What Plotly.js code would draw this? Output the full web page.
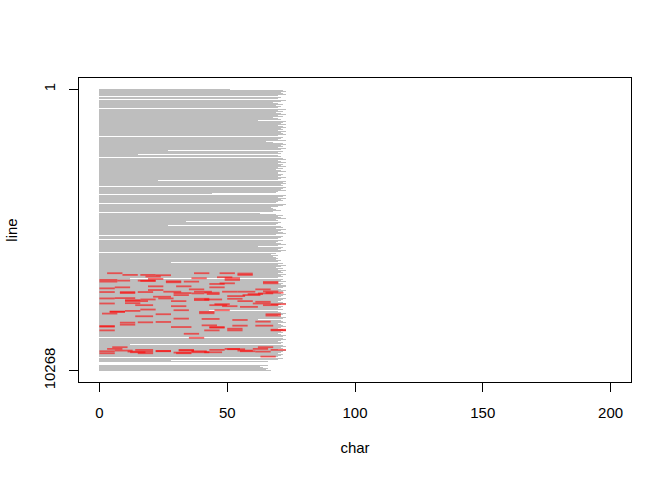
<!DOCTYPE html>
<html>
<head>
<meta charset="utf-8">
<script src="https://cdn.plot.ly/plotly-3.0.1.min.js"></script>
<style>html,body{margin:0;padding:0;background:#fff;}#chart{width:672px;height:480px;}</style>
</head>
<body>
<div id="chart"></div>
<script>
// Total number of text lines and axis ticks
const totalLines = 10268;
const charTicks = [0, 50, 100, 150, 200];
const lineTicks = [1, 10268];
const lineTickText = ['1', '10268'];

// Longest line length (chars) within each consecutive band of lines (≈36.8 lines per band, top to bottom)
const rowLen = [
  51,72,73,71,72,73,70,0,71,70,
  0,73,71,68,70,72,69,71,70,0,
  73,70,72,69,71,73,70,72,68,70,
  71,62,73,72,71,73,70,72,73,71,
  72,70,73,71,72,73,70,0,72,71,
  70,73,65,68,72,73,71,72,70,73,
  71,27,72,70,71,15,70,71,0,72,
  73,70,71,73,70,72,71,73,70,72,
  69,71,73,70,72,71,70,73,71,70,
  23,73,72,73,71,72,0,73,72,71,
  73,70,69,44,0,73,72,70,73,71,
  72,70,69,0,73,72,70,67,68,69,
  71,68,0,63,69,72,70,71,73,69,
  70,34,71,70,69,27,71,72,69,73,
  71,70,72,73,69,0,72,71,70,0,
  72,70,69,71,73,70,62,72,71,70,
  73,71,0,69,67,70,68,69,70,69,
  71,70,28,72,70,73,71,69,72,70,
  73,71,72,70,73,71,72,70,12,72,
  71,73,70,72,71,73,72,70,71,73,
  72,70,71,73,72,71,70,73,72,71,
  70,72,73,71,70,72,71,70,72,43,
  70,71,73,72,70,71,73,72,62,71,
  72,73,70,71,72,73,71,70,72,73,
  71,72,70,71,73,72,0,72,73,71,
  70,72,71,12,72,73,71,72,70,73,
  72,71,70,72,71,70,0,72,70,28,
  66,0,0,0,66,63,64,66,65,67
];

// Highlighted matches: line number, start char, end char
const redLine = [6711,6711,6711,6723,6772,6772,6784,6772,6833,6858,
  6895,6895,6956,7017,6981,6993,6919,7042,7017,7103,
  7079,7079,6956,7263,7226,7324,7385,7300,7385,7422,
  7385,7385,7300,7373,7398,7398,7398,7569,7508,7447,
  7471,7545,7508,7447,7422,7631,7692,7668,7631,7729,
  7729,7692,7668,7729,7753,7815,7876,7913,7876,7913,
  7938,7815,7876,8121,8183,8085,8036,8060,8121,8060,
  8281,8207,8367,8502,8489,8256,8637,8796,8588,8674,
  8612,8698,8735,8624,8624,8772,8919,9066,9409,9471,
  9557,9508,9557,9508,9557,9508,9471,9483,9557,9471,
  9409,9753,9630,9594,9630,9630,9594,9594,
  6981,7005,7030,7189,7189,7226,7435,7435,7471,7619,
  7643,7643,7803,7839,7839,8109,8171,8207,8379,8416,
  8477,8514,8660,8674,8796,8796,8796,9532,9569,9544,
  9606,9532,9532,9569,9508];
const redStart = [3,37,47,54,9,16,22,54,18,46,
  36,49,0,0,7,16,19,26,33,43,
  47,64,49,0,6,19,25,35,37,41,
  48,54,61,64,0,8,15,21,29,36,
  42,50,56,62,65,0,10,16,23,10,
  28,37,41,54,61,0,14,28,43,48,
  55,60,64,4,1,10,16,29,39,45,
  14,22,29,15,22,65,0,0,8,28,
  40,43,50,52,61,67,33,35,5,3,
  0,14,22,31,36,43,49,50,55,60,
  62,63,0,12,15,30,36,41,
  15,26,64,19,30,43,8,29,58,6,
  37,50,10,45,67,4,39,65,40,52,
  61,8,0,43,41,50,67,6,11,22,
  29,31,54,61,67];
const redEnd = [9,43,53,60,15,22,28,60,24,52,
  42,55,7,7,12,22,25,32,39,49,
  53,70,55,6,12,25,32,41,44,47,
  54,61,67,70,6,14,21,28,35,41,
  47,57,63,68,72,6,16,22,29,19,
  34,43,48,60,67,6,21,34,50,54,
  62,67,70,10,7,16,22,35,45,51,
  21,28,35,21,28,71,6,6,14,36,
  46,49,56,58,68,73,39,41,11,9,
  6,21,28,37,42,49,55,57,61,66,
  68,69,6,18,21,36,43,48,
  22,32,70,25,36,49,14,36,64,14,
  43,56,16,51,73,10,45,71,47,58,
  67,14,6,49,47,56,73,13,21,28,
  36,37,60,67,73];

// ---- build traces ----
const band = (totalLines - 1) / (rowLen.length - 1);
const bandY = rowLen.map((_, i) => 1 + i * band);

const grayTrace = {
  type: 'bar', orientation: 'h',
  x: rowLen, y: bandY, base: 0, width: band,
  marker: {color: '#BEBEBE', line: {width: 0}},
  hoverinfo: 'skip'
};

const rx = [], ry = [];
for (let i = 0; i < redLine.length; i++) {
  rx.push(redStart[i], redEnd[i], null);
  ry.push(redLine[i], redLine[i], null);
}
const redTrace = {
  type: 'scatter', mode: 'lines', x: rx, y: ry,
  line: {color: 'rgba(255,0,0,0.58)', width: 1.8},
  connectgaps: false, hoverinfo: 'skip'
};

const pad = 0.04 * (totalLines - 1);
const layout = {
  width: 672, height: 480,
  margin: {l: 79, r: 41, t: 78, b: 98, pad: 0},
  paper_bgcolor: '#fff', plot_bgcolor: '#fff',
  font: {family: 'Liberation Sans, Arial, sans-serif', size: 15, color: '#000'},
  showlegend: false, hovermode: false, bargap: 0,
  xaxis: {
    range: [-8, 208], tickvals: charTicks, ticks: 'outside', ticklen: 9,
    tickcolor: '#000', tickwidth: 1, showgrid: false, zeroline: false,
    showline: true, mirror: true, linecolor: '#000', linewidth: 1,
    ticklabelstandoff: 8, automargin: false,
    title: {text: 'char', standoff: 22, font: {size: 15}}
  },
  yaxis: {
    range: [totalLines + pad, 1 - pad], tickvals: lineTicks, ticktext: lineTickText,
    tickangle: -90, ticks: 'outside', ticklen: 9, tickcolor: '#000', tickwidth: 1,
    showgrid: false, zeroline: false, showline: true, mirror: true,
    linecolor: '#000', linewidth: 1, ticklabelstandoff: 8, automargin: false,
    title: {text: 'line', standoff: 19, font: {size: 15}}
  }
};

Plotly.newPlot('chart', [grayTrace, redTrace], layout, {staticPlot: true, displayModeBar: false});
</script>
</body>
</html>
